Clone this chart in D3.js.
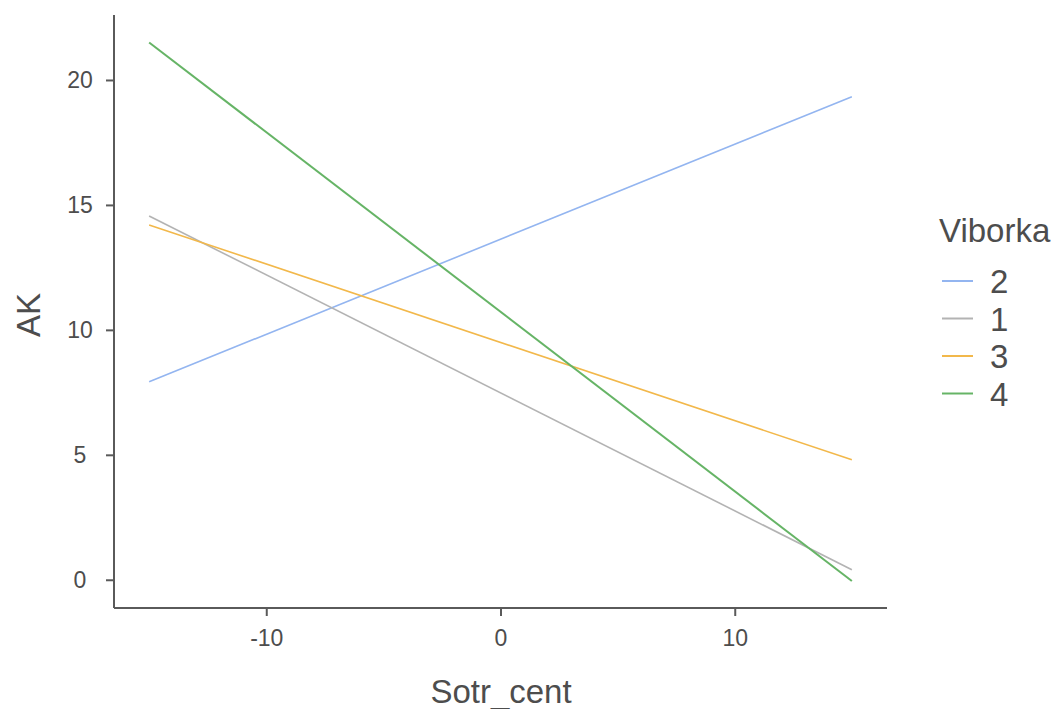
<!DOCTYPE html>
<html>
<head>
<meta charset="utf-8">
<script src="https://cdn.jsdelivr.net/npm/d3@7"></script>
<style>
  body { margin: 0; background: #fff; }
  text { font-family: Arial, "Liberation Sans", sans-serif; }
</style>
</head>
<body>
<svg></svg>
<script>
const w = 1057;
const h = 709;

// data: fitted lines at x = -15 and x = 15
const groups = ['2', '1', '3', '4'];
const colors = ['#93b5f0', '#b3b3b3', '#f2b84b', '#66b466'];
const xEnds = [-15, 15];
const startValues = [7.92, 14.56, 14.2, 21.5];
const endValues = [19.33, 0.4, 4.8, -0.05];
const xTicks = [-10, 0, 10];
const yTicks = [0, 5, 10, 15, 20];

const svg = d3.select('svg').attr('width', w).attr('height', h);

const x = d3.scaleLinear().domain([-16.5, 16.5]).range([114, 887]);
const y = d3.scaleLinear().domain([-1.13, 22.6]).range([608, 15]);

const axisColor = '#5a5a5a';
const textColor = '#4d4d4d';

// lines
const line = d3.line().x(d => x(d[0])).y(d => y(d[1]));
groups.forEach((g, i) => {
  svg
    .append('path')
    .attr('d', line([[xEnds[0], startValues[i]], [xEnds[1], endValues[i]]]))
    .attr('fill', 'none')
    .attr('stroke', colors[i])
    .attr('stroke-width', i === 3 ? 2 : 1.6);
});

// axes
const xAxis = svg
  .append('g')
  .attr('transform', `translate(0,${608})`)
  .call(d3.axisBottom(x).tickValues(xTicks).tickSize(8).tickPadding(14).tickFormat(d => String(d)));
const yAxis = svg
  .append('g')
  .attr('transform', `translate(${114},0)`)
  .call(d3.axisLeft(y).tickValues(yTicks).tickSize(8).tickPadding(0).tickFormat(d => String(d)));

[xAxis, yAxis].forEach(a => {
  a.select('.domain').attr('stroke', axisColor).attr('stroke-width', 2);
  a.selectAll('.tick line').attr('stroke', axisColor).attr('stroke-width', 2);
  a.selectAll('.tick text')
    .attr('fill', textColor)
    .style('font-size', '23px')
    .style('font-family', 'Arial, "Liberation Sans", sans-serif');
});
xAxis.select('.domain').attr('d', 'M114,0H887');
yAxis.select('.domain').attr('d', 'M0,15V608');
// y labels are centred in the margin
yAxis.selectAll('.tick text').attr('x', -34).attr('text-anchor', 'middle');

// axis titles
svg
  .append('text')
  .text('Sotr_cent')
  .attr('x', 501)
  .attr('y', 703)
  .attr('text-anchor', 'middle')
  .attr('fill', textColor)
  .style('font-size', '33px');

svg
  .append('text')
  .text('AK')
  .attr('transform', 'translate(40,315) rotate(-90)')
  .attr('text-anchor', 'middle')
  .attr('fill', textColor)
  .style('font-size', '33px');

// legend
svg
  .append('text')
  .text('Viborka')
  .attr('x', 939)
  .attr('y', 242)
  .attr('fill', textColor)
  .style('font-size', '33px');

groups.forEach((g, i) => {
  const ly = 281 + i * 37.5;
  svg
    .append('line')
    .attr('x1', 942)
    .attr('x2', 973)
    .attr('y1', ly)
    .attr('y2', ly)
    .attr('stroke', colors[i])
    .attr('stroke-width', 2);
  svg
    .append('text')
    .text(g)
    .attr('x', 990)
    .attr('y', ly + 12)
    .attr('fill', textColor)
    .style('font-size', '33px');
});
</script>
</body>
</html>
